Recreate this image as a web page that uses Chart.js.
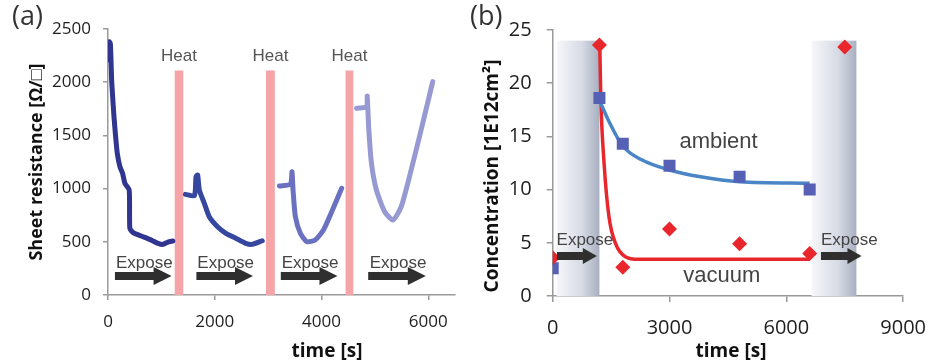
<!DOCTYPE html>
<html>
<head>
<meta charset="utf-8">
<script src="https://cdn.jsdelivr.net/npm/chart.js@4.4.1/dist/chart.umd.min.js"></script>
<style>
  body { margin: 0; background: #fff; }
  #wrap { position: relative; width: 940px; height: 364px; }
  .box { position: absolute; top: 0; width: 470px; height: 364px; }
</style>
</head>
<body>
<div id="wrap">
  <div class="box" style="left:0"><canvas id="chartA" width="470" height="364"></canvas></div>
  <div class="box" style="left:470px"><canvas id="chartB" width="470" height="364"></canvas></div>
</div>
<script>
// ---- panel (a): sheet resistance vs time, four exposure runs
const run1Time = [0, 24, 45, 68, 87, 112, 143, 174, 223, 273, 316, 397, 409, 471, 626, 781, 937, 1029, 1122, 1215];
const run1Res  = [2210, 2380, 2360, 2021, 1864, 1676, 1488, 1331, 1206, 1144, 1050, 987, 627, 586, 554, 523, 486, 476, 498, 507];
const run2Time = [1451, 1618, 1649, 1680, 1711, 1804, 1897, 2052, 2208, 2394, 2580, 2703, 2889];
const run2Res  = [946, 933, 1112, 1128, 987, 862, 736, 642, 580, 533, 486, 476, 510];
const run3Time = [3212, 3417, 3447, 3466, 3510, 3603, 3726, 3882, 4036, 4191, 4377];
const run3Res  = [1024, 1043, 1159, 987, 736, 580, 501, 517, 611, 783, 1003];
const run4Time = [4656, 4842, 4855, 4886, 4935, 5028, 5183, 5338, 5493, 5679, 5865, 6083];
const run4Res  = [1754, 1770, 1870, 1551, 1238, 987, 783, 705, 830, 1175, 1551, 2005];
const heatStart = [1250, 2960, 4450];
const heatEnd   = [1410, 3125, 4595];
const exposeA   = [[130, 1191], [1656, 2716], [3237, 4298], [4874, 5953]];
const ticksA_x  = [0, 2000, 4000, 6000];

// ---- panel (b): carrier concentration vs time
const ambTime = [0, 1200, 1800, 3000, 4800, 6600];
const ambConc = [2.6, 18.6, 14.3, 12.25, 11.2, 10.0];
const vacTime = [0, 1200, 1800, 3000, 4800, 6600, 7500];
const vacConc = [3.6, 23.6, 2.7, 6.3, 4.9, 4.0, 23.4];
const ambFitTime = [1200, 1446, 1798, 2285, 3000, 3797, 4805, 6600];
const ambFitConc = [18.4, 16.4, 14.1, 12.8, 11.84, 11.2, 10.74, 10.6];
const vacFitTime = [1210, 1235, 1319, 1445, 1613, 1865, 2202, 3000, 6600];
const vacFitConc = [23.5, 18.7, 12.5, 7.45, 4.95, 3.7, 3.45, 3.45, 3.45];
const exposeBands = [[100, 1200], [6650, 7800]];
const exposeB   = [[110, 1134], [6890, 7931]];

function pts(xs, ys) {
  return xs.map((x, i) => ({ x: x, y: ys[i] }));
}

function arrow(ctx, x1, x2, y, bodyH, headH, headL) {
  ctx.fillStyle = '#2f2f2f';
  ctx.beginPath();
  ctx.moveTo(x1, y - bodyH / 2);
  ctx.lineTo(x2 - headL, y - bodyH / 2);
  ctx.lineTo(x2 - headL, y - headH / 2);
  ctx.lineTo(x2, y);
  ctx.lineTo(x2 - headL, y + headH / 2);
  ctx.lineTo(x2 - headL, y + bodyH / 2);
  ctx.lineTo(x1, y + bodyH / 2);
  ctx.closePath();
  ctx.fill();
}

function text(ctx, str, x, y, font, color, align, rot) {
  ctx.save();
  ctx.font = font;
  ctx.fillStyle = color;
  ctx.textAlign = align || 'center';
  ctx.textBaseline = 'alphabetic';
  ctx.translate(x, y);
  if (rot) ctx.rotate(rot);
  ctx.fillText(str, 0, 0);
  ctx.restore();
}

function axisStyle(size, pad, tickLen) {
  return {
    border: { display: true, color: '#9a9a9a', width: 1.5 },
    grid: { display: true, drawOnChartArea: false, drawTicks: true, tickLength: tickLen, color: '#9a9a9a', lineWidth: 1.5 },
    ticks: { font: { family: 'Open Sans', size: size }, color: '#1e1e1e', padding: pad, callback: v => String(v) }
  };
}

const decorA = {
  id: 'decorA',
  beforeDatasetsDraw(chart) {
    const { ctx, scales: { x, y } } = chart;
    ctx.save();
    ctx.fillStyle = '#f5a4a7';
    heatStart.forEach((s, i) => {
      const x1 = x.getPixelForValue(s), x2 = x.getPixelForValue(heatEnd[i]);
      const top = y.getPixelForValue(2110), bot = y.getPixelForValue(0);
      ctx.fillRect(x1, top, x2 - x1, bot - top);
    });
    ctx.restore();
  },
  afterDraw(chart) {
    const { ctx, scales: { x, y } } = chart;
    heatStart.forEach((s, i) => {
      const c = x.getPixelForValue((s + heatEnd[i]) / 2);
      text(ctx, 'Heat', c, y.getPixelForValue(2200), '17px "Liberation Sans", Arial', '#555');
    });
    exposeA.forEach(a => {
      const x1 = x.getPixelForValue(a[0]), x2 = x.getPixelForValue(a[1]);
      const yy = y.getPixelForValue(178);
      arrow(ctx, x1, x2, yy, 8, 18, 18);
      text(ctx, 'Expose', (x1 + x2) / 2 + 1, y.getPixelForValue(254), '17px "Liberation Sans", Arial', '#444');
    });
    text(ctx, '(a)', 12, 25, '27px "Open Sans"', '#333', 'left');
    text(ctx, 'time [s]', 327, 357, 'bold 19px "Open Sans"', '#111');
    text(ctx, 'Sheet resistance [\u03A9/\u25A1]', 42, 162, 'bold 18px "Open Sans"', '#111', 'center', -Math.PI / 2);
  }
};

const decorB = {
  id: 'decorB',
  beforeDatasetsDraw(chart) {
    const { ctx, scales: { x, y } } = chart;
    ctx.save();
    exposeBands.forEach(b => {
      const x1 = x.getPixelForValue(b[0]), x2 = x.getPixelForValue(b[1]);
      const top = y.getPixelForValue(24), bot = y.getPixelForValue(0);
      const g = ctx.createLinearGradient(x1, 0, x2, 0);
      g.addColorStop(0, 'rgba(246,247,250,1)');
      g.addColorStop(0.6, 'rgba(214,218,228,1)');
      g.addColorStop(1, 'rgba(168,175,192,1)');
      ctx.fillStyle = g;
      ctx.fillRect(x1, top, x2 - x1, bot - top);
    });
    ctx.restore();
  },
  afterDraw(chart) {
    const { ctx, scales: { x, y } } = chart;
    exposeB.forEach(a => {
      const x1 = x.getPixelForValue(a[0]), x2 = x.getPixelForValue(a[1]);
      arrow(ctx, x1, x2, y.getPixelForValue(3.75), 8, 16, 14);
      text(ctx, 'Expose', (x1 + x2) / 2 + 8, y.getPixelForValue(4.8), '17px "Liberation Sans", Arial', '#444');
    });
    text(ctx, 'ambient', x.getPixelForValue(4260), y.getPixelForValue(13.9), '22px "Liberation Sans", Arial', '#444');
    text(ctx, 'vacuum', x.getPixelForValue(4344), y.getPixelForValue(1.3), '22px "Liberation Sans", Arial', '#444');
    text(ctx, '(b)', 0, 25, '27px "Open Sans"', '#333', 'left');
    text(ctx, 'time [s]', 261, 357, 'bold 19px "Open Sans"', '#111');
    text(ctx, 'Concentration [1E12cm\u00B2]', 28, 176, 'bold 19px "Open Sans"', '#111', 'center', -Math.PI / 2);
  }
};

function runSet(xs, ys, color) {
  return { data: pts(xs, ys), showLine: true, borderColor: color, borderWidth: 5, pointRadius: 0, tension: 0.2, borderJoinStyle: 'round', borderCapStyle: 'round' };
}

const xA = axisStyle(17, 12, 5);
xA.min = 0; xA.max = 6500;
xA.ticks.stepSize = 2000;
xA.afterBuildTicks = s => { s.ticks = ticksA_x.map(v => ({ value: v })); };
xA.afterFit = s => { s.height = 69; };
const yA = axisStyle(17, 12, 5);
yA.min = 0; yA.max = 2500;
yA.ticks.stepSize = 500;
yA.afterFit = s => { s.width = 108; };

new Chart(document.getElementById('chartA'), {
  type: 'scatter',
  data: {
    datasets: [
      runSet(run1Time, run1Res, '#30358f'),
      runSet(run2Time, run2Res, '#3647a0'),
      runSet(run3Time, run3Res, '#6b71c1'),
      runSet(run4Time, run4Res, '#9699d2')
    ]
  },
  options: {
    responsive: false,
    animation: false,
    layout: { padding: { left: 0, top: 29, right: 15, bottom: 0 } },
    plugins: { legend: { display: false }, tooltip: { enabled: false } },
    scales: { x: xA, y: yA }
  },
  plugins: [decorA]
});

const xB = axisStyle(20, 14, 6);
xB.min = 0; xB.max = 9000;
xB.ticks.stepSize = 3000;
xB.afterFit = s => { s.height = 68; };
const yB = axisStyle(20, 15, 6);
yB.min = 0; yB.max = 25;
yB.ticks.stepSize = 5;
yB.afterFit = s => { s.width = 82.7; };

new Chart(document.getElementById('chartB'), {
  type: 'scatter',
  data: {
    datasets: [
      { data: pts(vacTime, vacConc), pointStyle: 'rectRot', pointRadius: 7.5, backgroundColor: '#e8262b', borderColor: '#e8262b', borderWidth: 0, order: 1 },
      { data: pts(ambTime, ambConc), pointStyle: 'rect', pointRadius: 8.5, backgroundColor: '#5661b5', borderColor: '#5661b5', borderWidth: 0, order: 2 },
      { data: pts(ambFitTime, ambFitConc), showLine: true, borderColor: '#4a86c6', borderWidth: 3.5, pointRadius: 0, cubicInterpolationMode: 'monotone', order: 3 },
      { data: pts(vacFitTime, vacFitConc), showLine: true, borderColor: '#e8262b', borderWidth: 3.5, pointRadius: 0, cubicInterpolationMode: 'monotone', order: 4 }
    ]
  },
  options: {
    responsive: false,
    animation: false,
    layout: { padding: { left: 0, top: 30, right: 30.7, bottom: 0 } },
    plugins: { legend: { display: false }, tooltip: { enabled: false } },
    scales: { x: xB, y: yB }
  },
  plugins: [decorB]
});
</script>
</body>
</html>
